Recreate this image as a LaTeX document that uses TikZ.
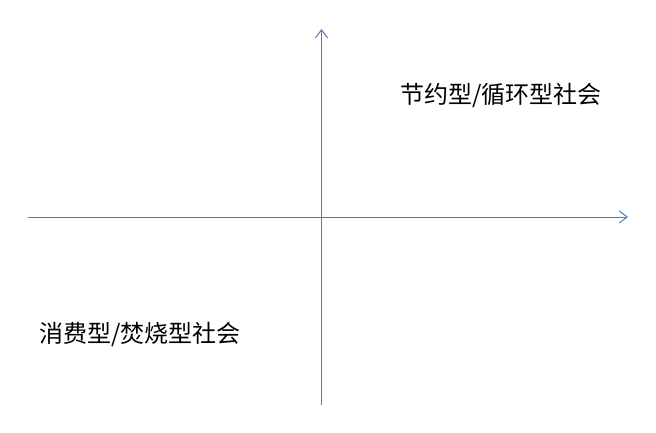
\documentclass[tikz,border=0pt]{standalone}
\usepackage{fontspec}
\newfontfamily\cjk{Noto Sans CJK SC}
\usetikzlibrary{arrows.meta}
\definecolor{axisblue}{RGB}{74,126,187}
\tikzset{
  axis/.style={draw=axisblue, line width=0.75pt, -{Straight Barb[length=6pt,width=9pt,line width=0.75pt]}},
  lbl/.style={font=\cjk\fontsize{18}{20}\selectfont, inner sep=0pt, text=black}
}
\begin{document}
\begin{tikzpicture}[x=0.75pt,y=-0.75pt]
\useasboundingbox (0,0) rectangle (656,432);
\coordinate (hstart) at (28,217);
\coordinate (hend) at (628,217);
\coordinate (vstart) at (321.5,405);
\coordinate (vend) at (321.5,29);
\draw[axis] (hstart) -- (hend);
\draw[axis] (vstart) -- (vend);
\node[lbl, anchor=west] (top) at (400,96) {节约型/循环型社会};
\node[lbl, anchor=west] (bot) at (39,335) {消费型/焚烧型社会};
\end{tikzpicture}
\end{document}
